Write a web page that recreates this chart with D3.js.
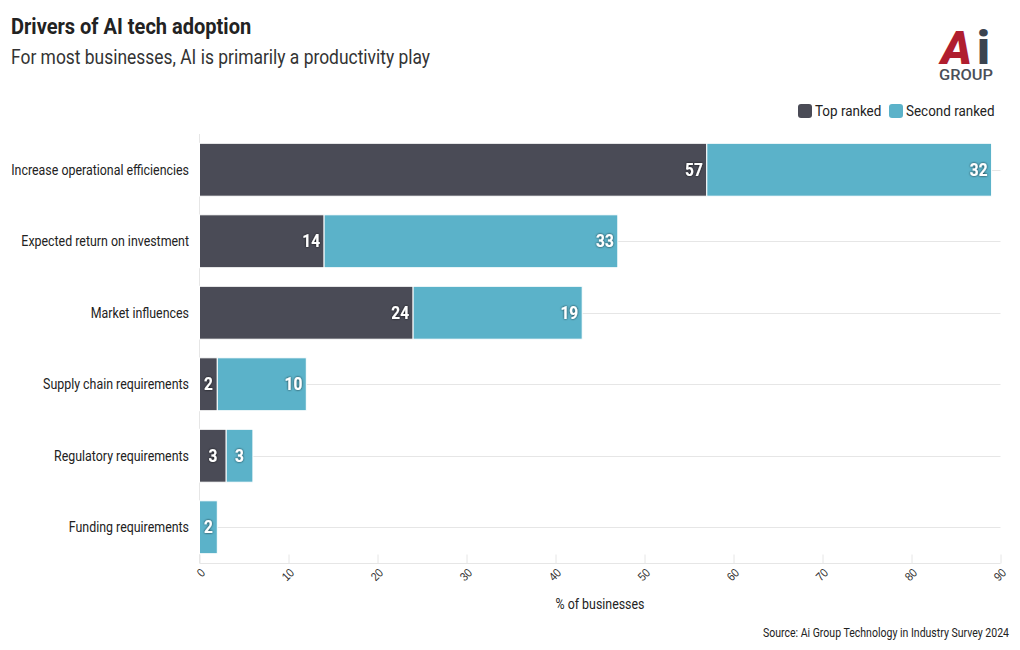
<!DOCTYPE html>
<html><head><meta charset="utf-8">
<script src="https://cdn.jsdelivr.net/npm/d3@7"></script>
<style>
body{margin:0;background:#fff;}
svg{font-family:"Roboto",sans-serif;}
</style></head>
<body><svg id="c" width="1020" height="650"></svg>
<script>
const categories = ["Increase operational efficiencies","Expected return on investment","Market influences","Supply chain requirements","Regulatory requirements","Funding requirements"];
const topRanked = [57,14,24,2,3,0];
const secondRanked = [32,33,19,10,3,2];
const seriesNames = ["Top ranked","Second ranked"];
const xTicks = [0,10,20,30,40,50,60,70,80,90];

const colors = ["#4a4b56","#5bb2c9"];
const svg = d3.select("#c");
function condense(sel, k){
  k = k || 0.885;
  sel.each(function(){
    const w = this.getComputedTextLength();
    d3.select(this).attr("textLength", w*k).attr("lengthAdjust","spacingAndGlyphs");
  });
  return sel;
}

condense(svg.append("text").attr("x",11).attr("y",34).attr("font-size",22.5).attr("font-weight",700).attr("fill","#222").text("Drivers of AI tech adoption"), 0.89);
condense(svg.append("text").attr("x",11).attr("y",64).attr("font-size",20).attr("fill","#333").text("For most businesses, AI is primarily a productivity play"), 0.871);

// logo
const lg = svg.append("g");
lg.append("text").attr("x",941).attr("y",64).attr("font-size",47).attr("font-weight",900).attr("font-style","italic").attr("fill","#b01e2f").text("A");
lg.append("text").attr("x",977).attr("y",64).attr("font-size",47).attr("font-weight",900).attr("fill","#3b4450").text("i");
lg.append("text").attr("x",966).attr("y",79.5).attr("text-anchor","middle").attr("font-size",14).attr("font-weight",500).attr("fill","#4a4f58").attr("textLength",54).attr("lengthAdjust","spacingAndGlyphs").text("GROUP");

const margin = {left:199.5,right:1000.5,top:134,bottom:563};
const x = d3.scaleLinear().domain([0,90]).range([margin.left,margin.right]);
const y = d3.scaleBand().domain(categories).range([margin.top,margin.bottom]).paddingInner(0.26).paddingOuter(0.13);

// gridlines
svg.append("g").selectAll("line").data(categories).join("line")
  .attr("x1",margin.left).attr("x2",margin.right)
  .attr("y1",d=>Math.round(y(d)+y.bandwidth()/2)+0.5).attr("y2",d=>Math.round(y(d)+y.bandwidth()/2)+0.5)
  .attr("stroke","#e6e6e6").attr("stroke-width",1);
svg.append("line").attr("x1",margin.left).attr("x2",margin.right).attr("y1",margin.bottom+0.5).attr("y2",margin.bottom+0.5).attr("stroke","#e6e6e6");
svg.append("line").attr("x1",199.5).attr("x2",199.5).attr("y1",margin.top).attr("y2",margin.bottom).attr("stroke","#e6e6e6");

// x axis
const xa = svg.append("g").attr("transform",`translate(0,${margin.bottom+0.5})`)
  .call(d3.axisBottom(x).tickValues(xTicks).tickSize(-9).tickFormat(d3.format("d")));
xa.select(".domain").remove();
xa.selectAll(".tick line").attr("stroke","#e6e6e6");
xa.selectAll(".tick text").attr("font-size",12).attr("fill","#333").attr("y",0)
  .attr("text-anchor","end").attr("dy",0).attr("transform","translate(6,10) rotate(-45)");
condense(xa.selectAll(".tick text"));

condense(svg.append("text").attr("x",600).attr("y",609).attr("text-anchor","middle").attr("font-size",14).attr("fill","#222").text("% of businesses"));

// y labels
condense(svg.append("g").selectAll("text").data(categories).join("text")
  .attr("x",189).attr("y",d=>y(d)+y.bandwidth()/2+5).attr("text-anchor","end")
  .attr("font-size",14).attr("fill","#222").text(d=>d), 0.885);

// bars
const data = categories.map((c,i)=>({cat:c,vals:[topRanked[i],secondRanked[i]]}));
const segs = [];
data.forEach(d=>{let s=0; d.vals.forEach((v,k)=>{segs.push({cat:d.cat,k,v,x0:s,x1:s+v}); s+=v;});});
const drawn = segs.filter(s=>s.v>0);
svg.append("g").selectAll("rect").data(drawn).join("rect")
  .attr("x",d=>x(d.x0)).attr("width",d=>x(d.x1)-x(d.x0))
  .attr("y",d=>y(d.cat)).attr("height",y.bandwidth())
  .attr("fill",d=>colors[d.k]).attr("stroke","#fff").attr("stroke-width",1);

// labels
const defs = svg.append("defs");
const f = defs.append("filter").attr("id","sh").attr("x","-50%").attr("y","-50%").attr("width","200%").attr("height","200%");
f.append("feDropShadow").attr("dx",0).attr("dy",0).attr("stdDeviation",1.2).attr("flood-color","#000").attr("flood-opacity",0.8);
condense(svg.append("g").selectAll("text").data(drawn).join("text")
  .attr("x",d=>{const w=x(d.x1)-x(d.x0); return w<30? (x(d.x0)+x(d.x1))/2 : x(d.x1)-4;})
  .attr("text-anchor",d=>(x(d.x1)-x(d.x0))<30?"middle":"end")
  .attr("y",d=>y(d.cat)+y.bandwidth()/2+6)
  .attr("font-size",17.5).attr("font-weight",700).attr("fill","#fff")
  .attr("filter","url(#sh)")
  .text(d=>d.v));

// legend
const leg = svg.append("g");
const lx = [798,889];
seriesNames.forEach((n,i)=>{
  leg.append("rect").attr("x",lx[i]).attr("y",104).attr("width",14).attr("height",14).attr("rx",3).attr("fill",colors[i]);
  condense(leg.append("text").attr("x",lx[i]+17).attr("y",116).attr("font-size",15.2).attr("fill","#222").text(n));
});

condense(svg.append("text").attr("x",1009).attr("y",637).attr("text-anchor","end").attr("font-size",12).attr("fill","#222").text("Source: Ai Group Technology in Industry Survey 2024"), 0.877);
</script></body></html>
